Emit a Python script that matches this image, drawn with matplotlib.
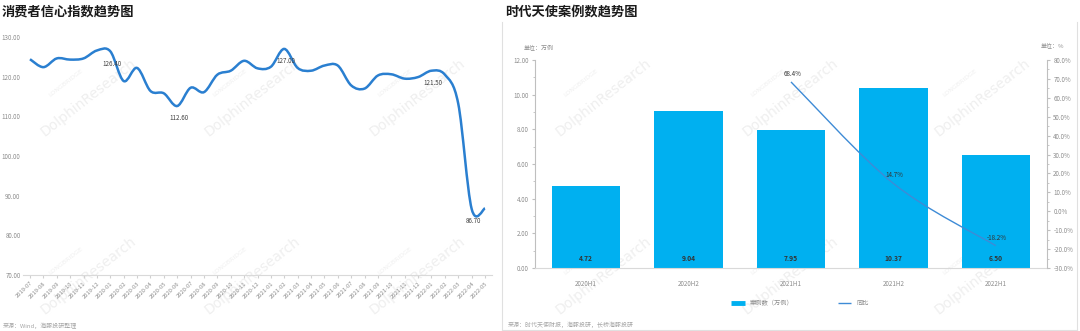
import numpy as np
import matplotlib
matplotlib.use("Agg")
from matplotlib import pyplot as plt
from matplotlib.path import Path
from matplotlib.patches import PathPatch
from matplotlib.ticker import FormatStrFormatter, MultipleLocator, AutoMinorLocator
from matplotlib.lines import Line2D

plt.rcParams['font.family'] = ['Noto Sans CJK SC', 'DejaVu Sans']

# 消费者信心指数 (monthly)
months = ['2019-07', '2019-08', '2019-09', '2019-10', '2019-11', '2019-12',
          '2020-01', '2020-02', '2020-03', '2020-04', '2020-05', '2020-06',
          '2020-07', '2020-08', '2020-09', '2020-10', '2020-11', '2020-12',
          '2021-01', '2021-02', '2021-03', '2021-04', '2021-05', '2021-06',
          '2021-07', '2021-08', '2021-09', '2021-10', '2021-11', '2021-12',
          '2022-01', '2022-02', '2022-03', '2022-04', '2022-05']
cci = [124.4, 122.4, 124.6, 124.3, 124.6, 126.6,
       126.4, 118.9, 122.2, 116.4, 115.8, 112.6,
       117.2, 116.1, 120.5, 121.5, 124.0, 122.1,
       122.5, 127.0, 122.2, 121.5, 122.8, 122.8,
       117.8, 117.0, 120.3, 120.6, 119.5, 119.9,
       121.5, 120.5, 113.2, 86.7, 86.8]
cci_marked = ['2020-01', '2020-06', '2021-02', '2022-01', '2022-04']

# 时代天使案例数 (half-yearly)
half_years = ['2020H1', '2020H2', '2021H1', '2021H2', '2022H1']
cases = [4.72, 9.04, 7.95, 10.37, 6.50]
yoy_periods = ['2021H1', '2021H2', '2022H1']
yoy = [68.4, 14.7, -18.2]

W, H = 1080, 331
BLUE_LINE = '#2A7FD0'
BAR = '#00B0F0'
GREY = '#8c8c8c'


def smooth_path(xs, ys):
    # catmull-rom style bezier, like excel's smoothed line
    pts = np.column_stack([xs, ys]).astype(float)
    p = np.vstack([pts[0], pts, pts[-1]])
    verts = [tuple(pts[0])]
    codes = [Path.MOVETO]
    for i in range(1, len(p) - 2):
        c1 = p[i] + (p[i + 1] - p[i - 1]) / 6.0
        c2 = p[i + 1] - (p[i + 2] - p[i]) / 6.0
        verts += [tuple(c1), tuple(c2), tuple(p[i + 1])]
        codes += [Path.CURVE4] * 3
    return Path(verts, codes)


def watermark(x, y):
    fig.text(x / W, 1 - y / H, 'DolphinResearch', rotation=38, fontsize=10,
             color='#efefef', ha='center', va='center', family='DejaVu Sans', zorder=-1)
    fig.text((x - 22) / W, 1 - (y - 14) / H, 'LONGBRIDGE', rotation=38, fontsize=4.5,
             color='#efefef', ha='center', va='center', family='DejaVu Sans', zorder=-1)


fig = plt.figure(figsize=(W / 100, H / 100), dpi=100)

for wx in (88, 252, 417, 603, 790, 982):
    for wy in (97, 275):
        watermark(wx, wy)

# ---------- left chart ----------
ax1 = fig.add_axes([23.3 / W, 1 - 275 / H, (491.7 - 23.3) / W, (275 - 37) / H])
ax1.patch.set_alpha(0)
x = np.arange(len(months))
ax1.add_patch(PathPatch(smooth_path(x, cci), facecolor='none', edgecolor=BLUE_LINE, lw=1.8))
ax1.set_xlim(-0.5, len(months) - 0.5)
ax1.set_ylim(70, 130)
ax1.set_yticks(np.arange(70, 131, 10))
ax1.yaxis.set_major_formatter(FormatStrFormatter('%.2f'))
ax1.set_xticks(x)
ax1.set_xticklabels(months, rotation=45, ha='right', rotation_mode='anchor')
ax1.tick_params(axis='y', length=0, labelsize=4.5, labelcolor=GREY, pad=2)
ax1.tick_params(axis='x', length=2, color='#d0d0d0', labelsize=4.2, labelcolor=GREY, pad=2)
for s in ('top', 'right', 'left'):
    ax1.spines[s].set_visible(False)
ax1.spines['bottom'].set_color('#d9d9d9')
for m in cci_marked:
    i = months.index(m)
    ax1.annotate('%.2f' % cci[i], (i, cci[i]), xytext=(1, -6), textcoords='offset points',
                 ha='center', va='top', fontsize=4.5, color='#404040')

fig.text(2 / W, 1 - 12 / H, '消费者信心指数趋势图', fontsize=9.5, fontweight='bold',
         va='center', ha='left', color='#1a1a1a')
fig.text(3 / W, 1 - 326 / H, '来源：Wind，海豚投研整理', fontsize=4.3, color='#a6a6a6',
         va='center', ha='left')

# ---------- right chart ----------
ax2 = fig.add_axes([535 / W, 1 - 268 / H, 512 / W, 208 / H])
ax2.patch.set_alpha(0)
xb = np.arange(len(half_years))
ax2.bar(xb, cases, width=0.667, color=BAR, zorder=2)
ax2.set_xlim(-0.5, len(half_years) - 0.5)
ax2.set_ylim(0, 12)
ax2.yaxis.set_major_locator(MultipleLocator(2))
ax2.yaxis.set_minor_locator(AutoMinorLocator(2))
ax2.yaxis.set_major_formatter(FormatStrFormatter('%.2f'))
ax2.set_xticks(xb)
ax2.set_xticklabels(half_years)
ax2.tick_params(axis='x', length=0, labelsize=4.5, labelcolor=GREY, pad=9)
ax2.tick_params(axis='y', which='both', direction='out', color='#bfbfbf', labelsize=4.5,
                labelcolor=GREY, pad=2)
ax2.tick_params(axis='y', which='major', length=2.5)
ax2.tick_params(axis='y', which='minor', length=1.5)
for s in ('top', 'right'):
    ax2.spines[s].set_visible(False)
ax2.spines['left'].set_color('#bfbfbf')
ax2.spines['bottom'].set_color('#d9d9d9')
for i, v in enumerate(cases):
    ax2.text(i, 0.35, '%.2f' % v, ha='center', va='bottom', fontsize=4.8,
             fontweight='bold', color='#333333', zorder=3)

ax3 = ax2.twinx()
ax3.set_ylim(-30, 80)
ax3.yaxis.set_major_locator(MultipleLocator(10))
ax3.yaxis.set_minor_locator(AutoMinorLocator(2))
ax3.yaxis.set_major_formatter(FormatStrFormatter('%.1f%%'))
ax3.tick_params(axis='y', which='both', direction='out', color='#bfbfbf', labelsize=4.5,
                labelcolor=GREY, pad=2)
ax3.tick_params(axis='y', which='major', length=2.5)
ax3.tick_params(axis='y', which='minor', length=1.5)
for s in ('top', 'left', 'bottom'):
    ax3.spines[s].set_visible(False)
ax3.spines['right'].set_color('#bfbfbf')
xl = [half_years.index(p) for p in yoy_periods]
ax3.add_patch(PathPatch(smooth_path(xl, yoy), facecolor='none', edgecolor='#3E8BD6', lw=1.0))
for xi, v in zip(xl, yoy):
    ax3.annotate('%.1f%%' % v, (xi, v), xytext=(1, 3), textcoords='offset points',
                 ha='center', va='bottom', fontsize=4.5, color='#333333')

ax2.text(0.008, 1.06, '单位：万例', transform=ax2.transAxes, fontsize=4.3, color=GREY,
         ha='center', va='center')
ax3.text(1.01, 1.07, '单位：%', transform=ax3.transAxes, fontsize=4.3, color=GREY,
         ha='center', va='center')

handles = [Line2D([], [], color=BAR, lw=3.5, solid_capstyle='butt'),
           Line2D([], [], color='#3E8BD6', lw=1.0, solid_capstyle='butt')]
fig.legend(handles, ['案例数（万例）', '同比'], loc='center', bbox_to_anchor=(800 / W, 1 - 303 / H),
           ncol=2, frameon=False, fontsize=4.5, handlelength=2.2, columnspacing=7,
           labelcolor=GREY, handletextpad=0.8)

fig.text(505 / W, 1 - 12 / H, '时代天使案例数趋势图', fontsize=9.5, fontweight='bold',
         va='center', ha='left', color='#1a1a1a')
fig.text(508 / W, 1 - 325 / H, '来源：时代天使财报，海豚投研，长桥海豚投研', fontsize=4.3,
         color='#a6a6a6', va='center', ha='left')

# panel frame around the right chart
for xs, ys in (([502, 502], [22, 330]), ([502, 1077], [330, 330]), ([1077, 1077], [22, 330])):
    fig.add_artist(Line2D([v / W for v in xs], [1 - v / H for v in ys], color='#e0e0e0', lw=0.8))

fig.savefig('out.png', dpi=100)
